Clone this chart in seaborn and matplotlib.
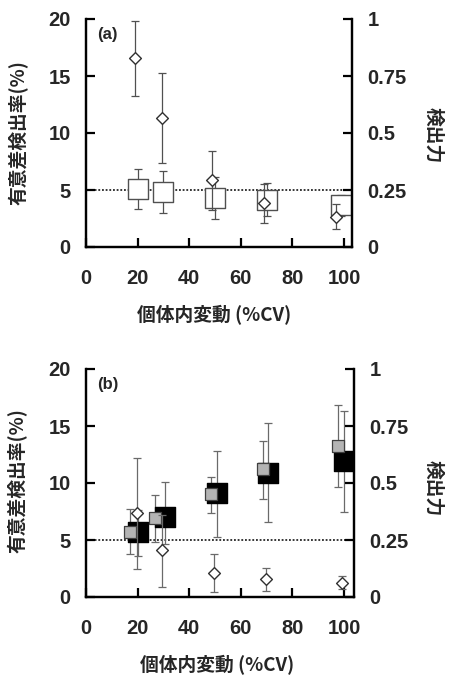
import matplotlib
matplotlib.use('Agg')
import matplotlib.pyplot as plt
import numpy as np
import pandas as pd
import seaborn as sns

# ---- data ----
# panel (a): significance detection rate (%) -> left axis, squares
cv_a_sq = [20, 30, 50, 70, 99]
rate_a = [5.1, 4.8, 4.3, 4.1, 3.65]
rate_a_lo = [3.3, 2.95, 2.45, 2.7, 2.75]
rate_a_hi = [6.8, 6.65, 6.15, 5.6, 4.55]
# panel (a): power -> right axis, diamonds
cv_a_dm = [19, 29.5, 49, 69, 97]
power_a = [0.83, 0.566, 0.292, 0.195, 0.133]
power_a_lo = [0.664, 0.369, 0.162, 0.106, 0.078]
power_a_hi = [0.993, 0.765, 0.423, 0.277, 0.19]

# panel (b): gray squares
cv_b_gray = [17.2, 26.7, 48.6, 68.5, 97.7]
rate_b_gray = [5.66, 6.95, 9.02, 11.2, 13.27]
rate_b_gray_lo = [3.77, 4.82, 7.4, 8.6, 9.68]
rate_b_gray_hi = [7.69, 8.95, 10.55, 13.71, 16.84]
# panel (b): black squares
cv_b_black = [20.1, 30.5, 50.6, 70.7, 99.9]
rate_b_black = [5.68, 7.0, 9.14, 10.9, 11.91]
rate_b_black_lo = [3.62, 4.65, 5.29, 6.6, 7.43]
rate_b_black_hi = [7.63, 10.06, 12.83, 15.23, 16.35]
# panel (b): power diamonds
cv_b_dm = [19.6, 29.3, 49.6, 69.6, 99.1]
power_b = [0.367, 0.206, 0.107, 0.078, 0.063]
power_b_lo = [0.122, 0.042, 0.024, 0.028, 0.035]
power_b_hi = [0.608, 0.36, 0.187, 0.129, 0.094]

alpha_level = 5
x_ticks = [0, 20, 40, 60, 80, 100]
y_ticks = [0, 5, 10, 15, 20]
p_ticks = [0, 0.25, 0.5, 0.75, 1]
p_tick_labels = ['0', '0.25', '0.5', '0.75', '1']

xlabel = '個体内変動 (%CV)'
ylabel = '有意差検出率(%)'
ylabel2 = '検出力'

sns.set_theme(style='ticks')
plt.rcParams['font.family'] = ['Liberation Sans', 'DejaVu Sans']
cjk = ['Noto Sans CJK JP', 'DejaVu Sans']

fig = plt.figure(figsize=(4.59, 6.82), dpi=100)
fig.patch.set_facecolor('white')


def errbars(ax, x, y, lo, hi, color, z):
    y = np.array(y)
    yerr = [y - np.array(lo), np.array(hi) - y]
    ax.errorbar(x, y, yerr=yerr, fmt='none', ecolor=color, elinewidth=0.9,
                capsize=3.2, capthick=0.9, zorder=z)


def frame(ax, ax2, xmax):
    ax.set_xlim(0, xmax)
    ax.set_ylim(0, 20)
    ax2.set_ylim(0, 1)
    ax.set_xticks(x_ticks)
    ax.set_yticks(y_ticks)
    ax2.set_yticks(p_ticks)
    ax2.set_yticklabels(p_tick_labels)
    for a in (ax, ax2):
        a.set_facecolor('none')
        a.spines['top'].set_visible(False)
        for s in ('left', 'right', 'bottom'):
            a.spines[s].set_linewidth(1.6)
            a.spines[s].set_color('black')
        a.tick_params(direction='in', length=6.5, width=1.6, color='black',
                      labelsize=14.5, pad=11)
        for lab in a.get_xticklabels() + a.get_yticklabels():
            lab.set_fontweight('bold')
    ax.tick_params(axis='x', pad=16)
    ax.hlines(alpha_level, 2, xmax, colors='black', linestyles=(0, (1.2, 1.2)),
              linewidth=1.1, zorder=1)


def labels(ax, ax2, letter, xc, yl, yr, xr):
    ax.set_xlabel(xlabel, family=cjk, fontweight='bold', fontsize=13.5, va='center')
    ax.xaxis.set_label_coords(xc, -0.298)
    ax.set_ylabel(ylabel, family=cjk, fontweight='bold', fontsize=13.5, va='center')
    ax.yaxis.set_label_coords(-0.255, yl)
    ax2.set_ylabel('')
    ax2.text(xr, yr, ylabel2, transform=ax2.transAxes, rotation=270,
             ha='center', va='center', family=cjk, fontweight='bold', fontsize=13.5)
    ax.text(0.04, 0.93, letter, transform=ax.transAxes, ha='left', va='center',
            fontsize=12, fontweight='bold')


# ---- panel (a) ----
ax = fig.add_axes([86 / 459, 1 - 247 / 682, 266 / 459, 228 / 682])
ax2 = ax.twinx()
frame(ax, ax2, 103.1)

df_a = pd.DataFrame({'cv': cv_a_sq, 'rate': rate_a})
errbars(ax, cv_a_sq, rate_a, rate_a_lo, rate_a_hi, '#505050', 2)
sns.scatterplot(data=df_a, x='cv', y='rate', ax=ax, marker='s', s=195,
                facecolor='white', edgecolor='#505050', linewidth=1.0, zorder=3)

df_a2 = pd.DataFrame({'cv': cv_a_dm, 'power': power_a})
errbars(ax2, cv_a_dm, power_a, power_a_lo, power_a_hi, '#505050', 4)
sns.scatterplot(data=df_a2, x='cv', y='power', ax=ax2, marker='D', s=36,
                facecolor='white', edgecolor='#303030', linewidth=1.0, zorder=5)
labels(ax, ax2, '(a)', 0.481, 0.504, 0.49, 1.305)

# ---- panel (b) ----
bx = fig.add_axes([86 / 459, 1 - 597 / 682, 268 / 459, 228 / 682])
bx2 = bx.twinx()
frame(bx, bx2, 103.9)

df_bk = pd.DataFrame({'cv': cv_b_black, 'rate': rate_b_black})
df_gr = pd.DataFrame({'cv': cv_b_gray, 'rate': rate_b_gray})
errbars(bx, cv_b_black, rate_b_black, rate_b_black_lo, rate_b_black_hi, '#6a6a6a', 2)
errbars(bx, cv_b_gray, rate_b_gray, rate_b_gray_lo, rate_b_gray_hi, '#6a6a6a', 2)
sns.scatterplot(data=df_bk, x='cv', y='rate', ax=bx, marker='s', s=195,
                facecolor='black', edgecolor='black', linewidth=1.0, zorder=3)
sns.scatterplot(data=df_gr, x='cv', y='rate', ax=bx, marker='s', s=70,
                facecolor='#b4b4b4', edgecolor='#404040', linewidth=0.9, zorder=3.5)

df_b2 = pd.DataFrame({'cv': cv_b_dm, 'power': power_b})
errbars(bx2, cv_b_dm, power_b, power_b_lo, power_b_hi, '#6a6a6a', 4)
sns.scatterplot(data=df_b2, x='cv', y='power', ax=bx2, marker='D', s=36,
                facecolor='white', edgecolor='#303030', linewidth=1.0, zorder=5)
labels(bx, bx2, '(b)', 0.49, 0.51, 0.478, 1.296)

fig.savefig('out.png', dpi=100, facecolor='white')
